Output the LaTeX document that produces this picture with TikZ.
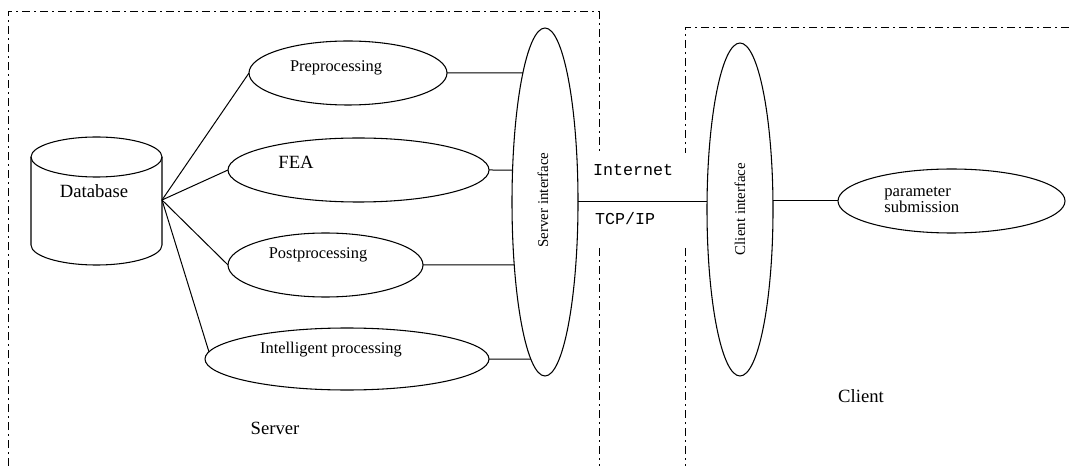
\documentclass[tikz,border=0pt]{standalone}
\usepackage{fontspec}
\setmainfont{Liberation Serif}
\newfontfamily\monofont{Liberation Mono}
\usetikzlibrary{shapes.geometric,intersections}
\begin{document}
\begin{tikzpicture}[x=0.75pt,y=-0.75pt,
  dd/.style={line width=0.75pt,dash pattern=on 6pt off 3pt on 1.5pt off 3pt},
  oval/.style={draw,ellipse,line width=0.8pt,inner sep=0pt,outer sep=0pt},
  conn/.style={line width=0.75pt},
  txt/.style={inner sep=0pt,font=\fontsize{12.3pt}{14pt}\selectfont},
  big/.style={inner sep=0pt,font=\fontsize{14pt}{16pt}\selectfont},
  mono/.style={inner sep=0pt,font=\monofont\fontsize{12.5pt}{14pt}\selectfont}]
\useasboundingbox (0,0) rectangle (1069,466);
% regions
\draw[dd] (8,466) -- (8,12) -- (599,12) -- (599,153);
\draw[dd] (599,248) -- (599,466);
\draw[dd] (1069,28) -- (685,28) -- (685,153);
\draw[dd] (685,248) -- (685,466);
% database cylinder
\draw[line width=0.8pt] (96.5,157) ellipse [x radius=49.125pt, y radius=15pt];
\draw[line width=0.8pt] (31,157) -- (31,245) arc[start angle=180, end angle=360, x radius=49.125pt, y radius=15pt] -- (162,157);
\node[big] (dbtext) at (94,191) {Database};
\coordinate (hub) at (162,200);
% process ellipses
\node[oval,minimum width=148.5pt,minimum height=48pt] (pre) at (348,73) {};
\node[oval,minimum width=195.75pt,minimum height=48pt] (fea) at (358.5,170) {};
\node[oval,minimum width=146.25pt,minimum height=48pt] (post) at (325.5,265) {};
\node[oval,minimum width=213pt,minimum height=46.5pt] (intel) at (347,359) {};
\node[txt] (pretext) at (336,68) {Preprocessing};
\node[big] (featext) at (296,162) {FEA};
\node[txt] (posttext) at (318,255) {Postprocessing};
\node[txt] (inteltext) at (331,350) {Intelligent processing};
% interfaces
\node[oval,minimum width=49.5pt,minimum height=261pt,name path=sipath] (si) at (545,202) {};
\node[oval,minimum width=49.5pt,minimum height=249.75pt] (ci) at (740,209.5) {};
\node[txt,font=\fontsize{11.2pt}{13pt}\selectfont,rotate=90] (sitext) at (543,200) {Server interface};
\node[txt,font=\fontsize{11.2pt}{13pt}\selectfont,rotate=90] (citext) at (740,209) {Client interface};
% parameter submission
\node[oval,minimum width=170.25pt,minimum height=48pt] (param) at (951.5,201) {};
\node[txt,align=left,anchor=north west,font=\fontsize{12.5pt}{12pt}\selectfont] (paramtext) at (884,187) {parameter\\submission};
% labels
\node[mono] (inet) at (633,170) {Internet};
\node[mono] (tcp) at (625,219) {TCP/IP};
\node[big] (srv) at (275,428) {Server};
\node[big] (cli) at (861,396) {Client};
% connectors
\draw[conn] (hub) -- (pre.west);
\draw[conn] (hub) -- (fea.west);
\draw[conn] (hub) -- (post.west);
\draw[conn] (hub) -- (intel.177);
\path[name path=h1] (pre.east) -- (pre.east -| si.center);
\path[name path=h2] (fea.east) -- (fea.east -| si.center);
\path[name path=h3] (post.east) -- (post.east -| si.center);
\path[name path=h4] (intel.east) -- (intel.east -| si.center);
\draw[conn,name intersections={of=sipath and h1,by=p1}] (pre.east) -- (p1);
\draw[conn,name intersections={of=sipath and h2,by=p2}] (fea.east) -- (p2);
\draw[conn,name intersections={of=sipath and h3,by=p3}] (post.east) -- (p3);
\draw[conn,name intersections={of=sipath and h4,by=p4}] (intel.east) -- (p4);
\draw[conn] (si.east) -- (si.east -| ci.west);
\draw[conn] (param.west -| ci.east) -- (param.west);
\end{tikzpicture}
\end{document}
